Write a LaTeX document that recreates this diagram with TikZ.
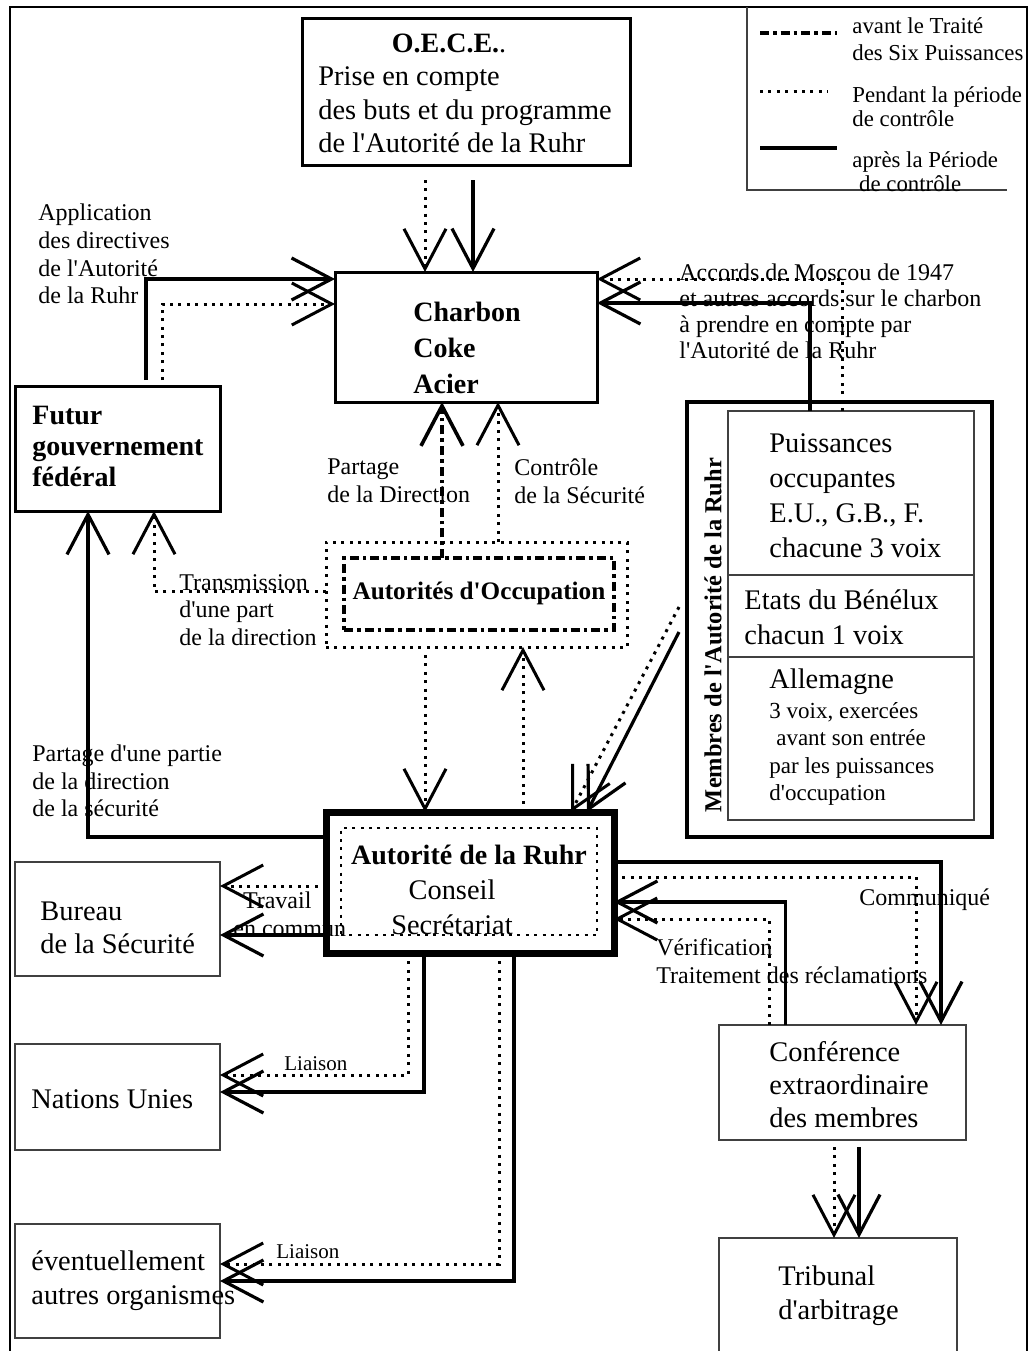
\documentclass[tikz,border=0pt]{standalone}
\usepackage{fontspec}
\setmainfont{Liberation Serif}[Ligatures=TeXOff]
\usetikzlibrary{arrows.meta,calc,fit,positioning}

\begin{document}
\begin{tikzpicture}[
    x=0.5pt, y=-0.5pt,
    boite/.style={draw, inner sep=0pt, outer sep=0pt},
    cadre/.style={boite, line width=1.5pt},
    mince/.style={boite, draw=black!75, line width=0.6pt},
    plein/.style={line width=1.6pt},
    pointille/.style={line width=1.5pt, dash pattern=on 1.5pt off 2.7pt},
    tiret/.style={line width=1.8pt, dash pattern=on 4.5pt off 2pt on 1.8pt off 2pt},
    vers/.style={-{Straight Barb[length=20pt,width=21pt]}},
    texte/.style={anchor=west, align=left, inner sep=0pt, font=\fontsize{14.2}{16.7}\selectfont},
    etiq/.style={anchor=west, align=left, inner sep=0pt, font=\fontsize{12}{13.8}\selectfont},
    titre/.style={inner sep=0pt, font=\fontsize{14}{17}\selectfont\bfseries}
  ]
  \useasboundingbox (0,0) rectangle (1033,1351);

  % cadre et legende
  \draw[line width=1pt] (10,1351) -- (10,7) -- (1027,7) -- (1027,1351);
  \draw[mince] (747,7) -- (747,190) -- (1007,190);
  \draw[tiret, line width=2pt] (760,33) -- (837,33);
  \draw[pointille] (760,91) -- (828,91);
  \draw[plein, line width=2pt] (760,148) -- (837,148);
  \node[etiq, font=\fontsize{11.4}{13.5}\selectfont] (leg1) at (852,39) {avant le Traité\\des Six Puissances};
  \node[etiq, font=\fontsize{11.4}{12}\selectfont] (leg2) at (852,107) {Pendant la période\\de contrôle};
  \node[etiq, font=\fontsize{11.4}{12}\selectfont] (leg3) at (852,172) {après la Période\\\hspace*{0.3em}de contrôle};

  % O.E.C.E.
  \node[cadre, fit={(302,18) (630,165)}] (oece) {};
  \node[titre] (oeceT) at (449,43) {O.E.C.E.\textmd{.}};
  \node[texte] (oeceX) at (318,110) {Prise en compte\\des buts et du programme\\de l'Autorité de la Ruhr};

  % Charbon Coke Acier
  \node[cadre, fit={(335,272) (597,402)}] (charbon) {};
  \node[titre, anchor=west, align=left, font=\fontsize{14}{18}\selectfont\bfseries] (charbonT) at (413,348) {Charbon\\Coke\\Acier};

  % Futur gouvernement
  \node[cadre, fit={(15,386) (220,511)}] (futur) {};
  \node[titre, anchor=west, align=left, font=\fontsize{14}{15.5}\selectfont\bfseries] (futurT) at (32,446) {Futur\\gouvernement\\fédéral};
  \node[etiq] (appl) at (38,254) {Application\\des directives\\de l'Autorité\\de la Ruhr};
  \node[etiq, font=\fontsize{12}{13}\selectfont] (moscou) at (679,311) {Accords de Moscou de 1947\\et autres accords sur le charbon\\à prendre en compte par\\l'Autorité de la Ruhr};

  % Membres
  \node[boite, line width=2pt, fit={(687,402) (992,837)}] (membres) {};
  \node[mince, fit={(728,411) (974,575)}] (puiss) {};
  \node[mince, fit={(728,575) (974,657)}] (benelux) {};
  \node[mince, fit={(728,657) (974,820)}] (allem) {};
  \node[texte, font=\fontsize{14.2}{17.5}\selectfont] (puissT) at (769,496) {Puissances\\occupantes\\E.U., G.B., F.\\chacune 3 voix};
  \node[texte, font=\fontsize{14.2}{17.5}\selectfont] (beneluxT) at (744,617) {Etats du Bénélux\\chacun 1 voix};
  \node[texte] (allemT) at (769,682) {Allemagne};
  \node[etiq, font=\fontsize{11.5}{13.8}\selectfont] (allemX) at (769,754) {3 voix, exercées\\\hspace*{0.3em}avant son entrée\\par les puissances\\d'occupation};
  \node[titre, rotate=90, font=\fontsize{12.2}{14}\selectfont\bfseries] (membresT) at (713,635) {Membres de l'Autorité de la Ruhr};

  % Autorites d'Occupation
  \node[boite, pointille, fit={(326,542) (627,647)}] (occ) {};
  \node[boite, tiret, fit={(344,558) (614,630)}] (occin) {};
  \node[titre, font=\fontsize{12.6}{15}\selectfont\bfseries] (occT) at (479,593) {Autorités d'Occupation};
  \node[etiq] (partage) at (327,481) {Partage\\de la Direction};
  \node[etiq] (controle) at (514,481) {Contrôle\\de la Sécurité};
  \node[etiq] (transm) at (179,610) {Transmission\\d'une part\\de la direction};

  % Autorite de la Ruhr
  \node[boite, line width=3.5pt, fit={(326,812) (614,953)}] (ruhr) {};
  \node[boite, pointille, line width=1.3pt, fit={(341,828) (597,935)}] (ruhrin) {};
  \node[titre] (ruhrT) at (469,855) {Autorité de la Ruhr};
  \node[inner sep=0pt, align=center, font=\fontsize{14.2}{17.5}\selectfont] (ruhrX) at (452,907) {Conseil\\Secrétariat};
  \node[etiq] (partie) at (32,781) {Partage d'une partie\\de la direction\\de la sécurité};

  % organismes
  \node[mince, fit={(15,862) (220,976)}] (bureau) {};
  \node[texte, font=\fontsize{14.2}{16.5}\selectfont] (bureauT) at (40,928) {Bureau\\de la Sécurité};
  \node[etiq] (travail) at (233,914) {\hspace*{0.4em}Travail\\en commun};
  \node[mince, fit={(15,1044) (220,1150)}] (onu) {};
  \node[texte] (onuT) at (31,1099) {Nations Unies};
  \node[mince, fit={(15,1224) (220,1338)}] (autres) {};
  \node[texte, font=\fontsize{14.2}{17}\selectfont] (autresT) at (31,1281) {éventuellement\\autres organismes};
  \node[etiq, font=\fontsize{10.5}{12}\selectfont] (liaison1) at (284,1064) {Liaison};
  \node[etiq, font=\fontsize{10.5}{12}\selectfont] (liaison2) at (276,1252) {Liaison};

  \node[mince, fit={(719,1025) (966,1140)}] (conf) {};
  \node[texte, font=\fontsize{14.2}{16.5}\selectfont] (confT) at (769,1085) {Conférence\\extraordinaire\\des membres};
  \node[etiq] (communique) at (859,900) {Communiqué};
  \node[etiq] (verif) at (656,961) {Vérification\\Traitement des réclamations};
  \node[mince, fit={(719,1238) (957,1358)}] (tribunal) {};
  \node[texte, font=\fontsize{14.2}{17}\selectfont] (tribunalT) at (778,1296) {Tribunal\\d'arbitrage};

  % liaisons vers Charbon
  \coordinate (e1) at ($(oece.south)+(-41,15)$);
  \coordinate (e2) at ($(oece.south)+(7,15)$);
  \draw[pointille, vers] (e1) -- (e1 |- charbon.north);
  \draw[plein, vers] (e2) -- (e2 |- charbon.north);
  \coordinate (f1) at ($(futur.north west)+(131,-6)$);
  \coordinate (f2) at ($(futur.north west)+(147,-6)$);
  \draw[plein, vers] (f1) |- ($(charbon.north west)+(0,7)$);
  \draw[pointille, vers] (f2) |- ($(charbon.north west)+(0,32)$);
  \coordinate (m1) at ($(puiss.north west)+(82,0)$);
  \coordinate (m2) at ($(puiss.north west)+(114,0)$);
  \draw[plein, vers] (m1) |- ($(charbon.north east)+(0,31)$);
  \draw[pointille, vers] (m2) |- ($(charbon.north east)+(0,7)$);
  \coordinate (o1) at ($(occin.north)+(-37,0)$);
  \coordinate (o2) at ($(occ.north)+(21.5,0)$);
  \draw[tiret, vers] (o1) -- (o1 |- charbon.south);
  \draw[pointille, vers] (o2) -- (o2 |- charbon.south);

  % liaisons vers le gouvernement
  \coordinate (t0) at ($(occ.west)+(0,-3.5)$);
  \draw[pointille, vers] (t0) -| ($(futur.south west)+(139,0)$);
  \coordinate (p0) at ($(ruhr.north west)+(0,25)$);
  \draw[plein, vers] (p0) -| ($(futur.south west)+(73,0)$);

  % liaisons autour de l'Autorite de la Ruhr
  \coordinate (o3) at ($(occ.south)+(-51.5,8)$);
  \draw[pointille, vers] (o3) -- (o3 |- ruhr.north);
  \coordinate (o4) at ($(ruhr.north west)+(197,0)$);
  \draw[pointille, vers] (o4) -- (o4 |- occ.south);
  \coordinate (m3) at ($(membres.west)+(-8,-12.5)$);
  \coordinate (m4) at ($(membres.west)+(-8,12.5)$);
  \draw[pointille, vers] (m3) -- ($(ruhr.north west)+(245,0)$);
  \draw[plein, vers] (m4) -- ($(ruhr.north west)+(261,0)$);

  \coordinate (r1) at ($(ruhr.north west)+(0,74)$);
  \coordinate (r2) at ($(ruhr.north west)+(0,123)$);
  \draw[pointille, vers] (r1) -- (r1 -| bureau.east);
  \draw[plein, vers] (r2) -- (r2 -| bureau.east);

  \coordinate (b1) at ($(ruhr.south west)+(82,0)$);
  \coordinate (b2) at ($(ruhr.south west)+(98,0)$);
  \coordinate (b3) at ($(ruhr.south west)+(173,0)$);
  \coordinate (b4) at ($(ruhr.south west)+(188,0)$);
  \draw[pointille, vers] (b1) |- ($(onu.north east)+(0,31)$);
  \draw[plein, vers] (b2) |- ($(onu.north east)+(0,48)$);
  \draw[pointille, vers] (b3) |- ($(autres.north east)+(0,40)$);
  \draw[plein, vers] (b4) |- ($(autres.north east)+(0,57)$);

  \coordinate (r3) at ($(ruhr.north east)+(0,50)$);
  \coordinate (r4) at ($(ruhr.north east)+(0,65)$);
  \draw[plein, vers] (r3) -| ($(conf.north)+(98.5,0)$);
  \draw[pointille, vers] (r4) -| ($(conf.north)+(73.5,0)$);
  \coordinate (c1) at ($(conf.north)+(-57,0)$);
  \coordinate (c2) at ($(conf.north)+(-73.5,0)$);
  \draw[plein, vers] (c1) |- ($(ruhr.north east)+(0,90)$);
  \draw[pointille, vers] (c2) |- ($(ruhr.north east)+(0,107)$);

  \coordinate (c3) at ($(conf.south)+(-8.5,7)$);
  \coordinate (c4) at ($(conf.south)+(16.5,7)$);
  \draw[pointille, vers] (c3) -- (c3 |- tribunal.north);
  \draw[plein, vers] (c4) -- (c4 |- tribunal.north);
\end{tikzpicture}
\end{document}
